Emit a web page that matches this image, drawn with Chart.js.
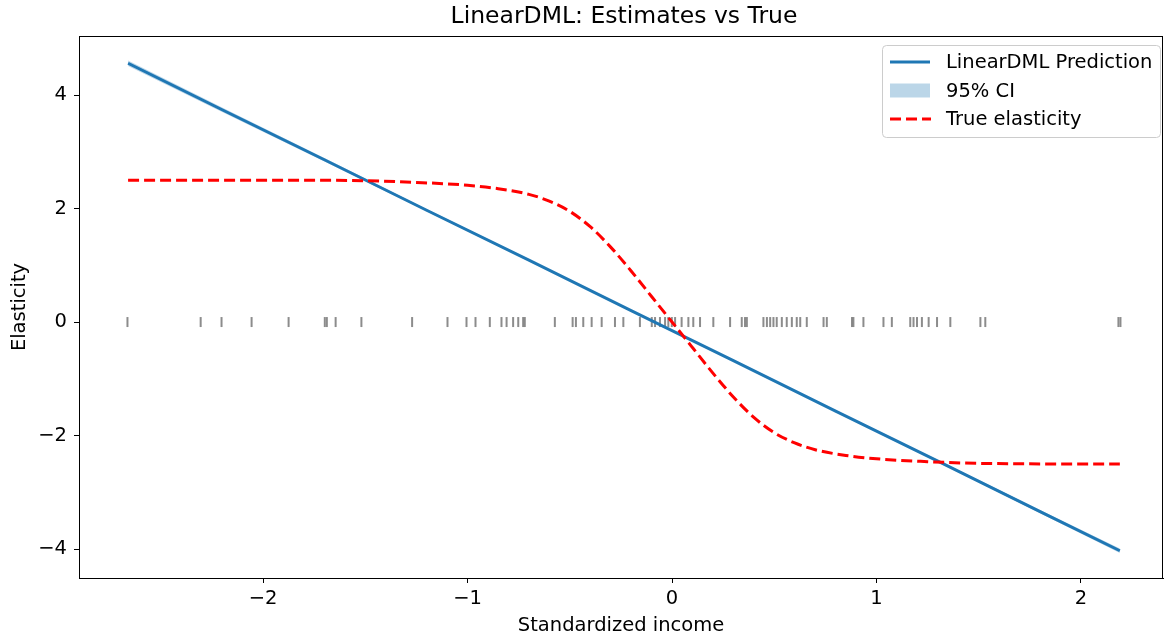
<!DOCTYPE html>
<html>
<head>
<meta charset="utf-8">
<script src="https://cdn.jsdelivr.net/npm/chart.js@4.4.0/dist/chart.umd.min.js"></script>
<style>
  html, body { margin: 0; padding: 0; background: #fff; }
  #wrap { width: 1164px; height: 638px; position: relative; }
</style>
</head>
<body>
<div id="wrap"><canvas id="c" width="1164" height="638"></canvas></div>
<script>
// ---- Data ----
const chartTitle = 'LinearDML: Estimates vs True';
const xLabel = 'Standardized income';
const yLabel = 'Elasticity';

const predX  = [-2.66, -2.2, -1.7, -1.2, -0.7, -0.2, 0.3, 0.8, 1.3, 1.8, 2.19];
const predY  = [4.56, 3.74, 2.86, 1.97, 1.09, 0.20, -0.68, -1.57, -2.45, -3.34, -4.03];
const ciHigh = [4.61, 3.78, 2.89, 1.99, 1.105, 0.21, -0.67, -1.555, -2.43, -3.31, -3.99];
const ciLow  = [4.51, 3.70, 2.83, 1.95, 1.075, 0.19, -0.69, -1.585, -2.47, -3.37, -4.07];

const trueX = [-2.66, -2.0, -1.5, -1.25, -1.0, -0.85, -0.7, -0.6, -0.5, -0.4, -0.3, -0.2, -0.1, 0,
               0.1, 0.2, 0.3, 0.4, 0.5, 0.6, 0.7, 0.85, 1.0, 1.25, 1.5, 2.0, 2.19];
const trueY = [2.50, 2.50, 2.49, 2.46, 2.41, 2.35, 2.25, 2.13, 1.95, 1.68, 1.32, 0.90, 0.45, 0.0,
               -0.45, -0.90, -1.32, -1.68, -1.95, -2.13, -2.25, -2.35, -2.41, -2.46, -2.49, -2.50, -2.50];

const rugX = [-2.663, -2.305, -2.203, -2.056, -1.875, -1.698, -1.688, -1.645, -1.519, -1.271,
              -1.098, -1.005, -0.961, -0.891, -0.834, -0.809, -0.777, -0.752, -0.728, -0.720,
              -0.573, -0.486, -0.470, -0.434, -0.393, -0.344, -0.279, -0.238, -0.157, -0.099,
              -0.083, -0.059, -0.034, -0.018, -0.001, 0.015, 0.047, 0.080, 0.104, 0.137,
              0.202, 0.284, 0.341, 0.357, 0.366, 0.447, 0.464, 0.480, 0.496, 0.512,
              0.537, 0.561, 0.586, 0.610, 0.627, 0.659, 0.741, 0.757, 0.880, 0.887,
              0.936, 1.034, 1.075, 1.165, 1.181, 1.198, 1.222, 1.255, 1.296, 1.361,
              1.508, 1.532, 2.183, 2.193];

const xTicks = [-2, -1, 0, 1, 2];
const yTicks = [-4, -2, 0, 2, 4];
const xRange = [-2.900, 2.401];
const yRange = [-4.51, 5.04];

const legendLabels = ['LinearDML Prediction', '95% CI', 'True elasticity'];

// ---- Styles ----
const BLUE = '#1f77b4';
const CI_FILL = 'rgba(31,119,180,0.3)';
const RED = '#ff0000';
const FONT = 'DejaVu Sans';
const FS = 19.5;

const pts = (xs, ys) => xs.map((x, i) => ({x: x, y: ys[i]}));
const fmt = v => String(v).replace('-', '\u2212');
const zeroPad = s => { s.paddingLeft = 0; s.paddingRight = 0; s.paddingTop = 0; s.paddingBottom = 0; };

const framePlugin = {
  id: 'frameAndExtras',
  afterDraw(chart) {
    const {ctx, chartArea: a} = chart;
    ctx.save();
    // spines
    ctx.strokeStyle = '#000';
    ctx.lineWidth = 1;
    ctx.strokeRect(a.left + 0.5, a.top + 0.5, a.right - a.left - 1, a.bottom - a.top);
    // title
    ctx.fillStyle = '#000';
    ctx.font = '23.5px "' + FONT + '"';
    ctx.textAlign = 'center';
    ctx.textBaseline = 'middle';
    ctx.fillText(chartTitle, 624, 17);

    // legend
    const bx = 882.5, by = 45.5, bw = 278, bh = 92, r = 4;
    ctx.beginPath();
    ctx.moveTo(bx + r, by);
    ctx.lineTo(bx + bw - r, by);
    ctx.arcTo(bx + bw, by, bx + bw, by + r, r);
    ctx.lineTo(bx + bw, by + bh - r);
    ctx.arcTo(bx + bw, by + bh, bx + bw - r, by + bh, r);
    ctx.lineTo(bx + r, by + bh);
    ctx.arcTo(bx, by + bh, bx, by + bh - r, r);
    ctx.lineTo(bx, by + r);
    ctx.arcTo(bx, by, bx + r, by, r);
    ctx.closePath();
    ctx.fillStyle = 'rgba(255,255,255,0.8)';
    ctx.fill();
    ctx.strokeStyle = '#cccccc';
    ctx.stroke();

    const ds = chart.data.datasets;
    const rows = [62, 90.5, 119];
    const sx0 = 890, sx1 = 930, tx = 946;
    ctx.strokeStyle = ds[2].borderColor;
    ctx.lineWidth = ds[2].borderWidth;
    ctx.setLineDash([]);
    ctx.beginPath(); ctx.moveTo(sx0, rows[0]); ctx.lineTo(sx1, rows[0]); ctx.stroke();
    ctx.fillStyle = ds[0].backgroundColor;
    ctx.fillRect(sx0, rows[1] - 7, sx1 - sx0, 14);
    ctx.strokeStyle = ds[3].borderColor;
    ctx.lineWidth = ds[3].borderWidth;
    ctx.setLineDash(ds[3].borderDash);
    ctx.beginPath(); ctx.moveTo(sx0, rows[2]); ctx.lineTo(sx1 + 1, rows[2]); ctx.stroke();
    ctx.setLineDash([]);

    ctx.fillStyle = '#000';
    ctx.font = FS + 'px "' + FONT + '"';
    ctx.textAlign = 'left';
    ctx.textBaseline = 'middle';
    legendLabels.forEach((t, i) => ctx.fillText(t, tx, rows[i] + 1));
    ctx.restore();
  }
};

new Chart(document.getElementById('c'), {
  type: 'scatter',
  data: {
    datasets: [
      { label: '95% CI upper', data: pts(predX, ciHigh), showLine: true, borderWidth: 0,
        borderColor: 'rgba(0,0,0,0)', backgroundColor: CI_FILL, pointRadius: 0, fill: '+1', order: 4 },
      { label: '95% CI lower', data: pts(predX, ciLow), showLine: true, borderWidth: 0,
        borderColor: 'rgba(0,0,0,0)', backgroundColor: CI_FILL, pointRadius: 0, fill: false, order: 4 },
      { label: legendLabels[0], data: pts(predX, predY), showLine: true, borderColor: BLUE,
        backgroundColor: BLUE, borderWidth: 3, pointRadius: 0, tension: 0, order: 2 },
      { label: legendLabels[2], data: pts(trueX, trueY), showLine: true, borderColor: RED,
        backgroundColor: RED, borderWidth: 3, borderDash: [11, 5], pointRadius: 0,
        cubicInterpolationMode: 'monotone', order: 1 },
      { label: 'rug', data: rugX.map(x => ({x: x, y: 0})), showLine: false,
        pointStyle: 'line', rotation: 90, pointRadius: 5, pointHoverRadius: 5,
        borderColor: 'rgba(128,128,128,0.9)', pointBorderWidth: 2, borderWidth: 2, order: 3 }
    ]
  },
  options: {
    responsive: false,
    animation: false,
    events: [],
    layout: { autoPadding: false, padding: { top: 36, right: 1, left: 0, bottom: 0 } },
    plugins: { legend: { display: false }, tooltip: { enabled: false }, title: { display: false } },
    scales: {
      x: {
        type: 'linear', min: xRange[0], max: xRange[1],
        afterFit: s => { s.height = 60; zeroPad(s); },
        afterBuildTicks: s => { s.ticks = xTicks.map(v => ({value: v})); },
        grid: { display: true, drawOnChartArea: false, drawTicks: true, tickLength: 5, color: '#000', lineWidth: 1 },
        border: { display: true, color: '#000', width: 1 },
        ticks: { callback: v => fmt(v), color: '#000', font: { family: FONT, size: FS }, padding: 4, maxRotation: 0, autoSkip: false },
        title: { display: true, text: xLabel, color: '#000', font: { family: FONT, size: FS }, padding: { top: 0, bottom: 0 } }
      },
      y: {
        type: 'linear', min: yRange[0], max: yRange[1],
        afterFit: s => { s.width = 79; zeroPad(s); },
        afterBuildTicks: s => { s.ticks = yTicks.map(v => ({value: v})); },
        grid: { display: true, drawOnChartArea: false, drawTicks: true, tickLength: 5, color: '#000', lineWidth: 1 },
        border: { display: true, color: '#000', width: 1 },
        ticks: { callback: v => fmt(v), color: '#000', font: { family: FONT, size: FS }, padding: 7, autoSkip: false },
        title: { display: true, text: yLabel, color: '#000', font: { family: FONT, size: FS }, padding: { top: 8, bottom: 0 } }
      }
    }
  },
  plugins: [framePlugin]
});
</script>
</body>
</html>
